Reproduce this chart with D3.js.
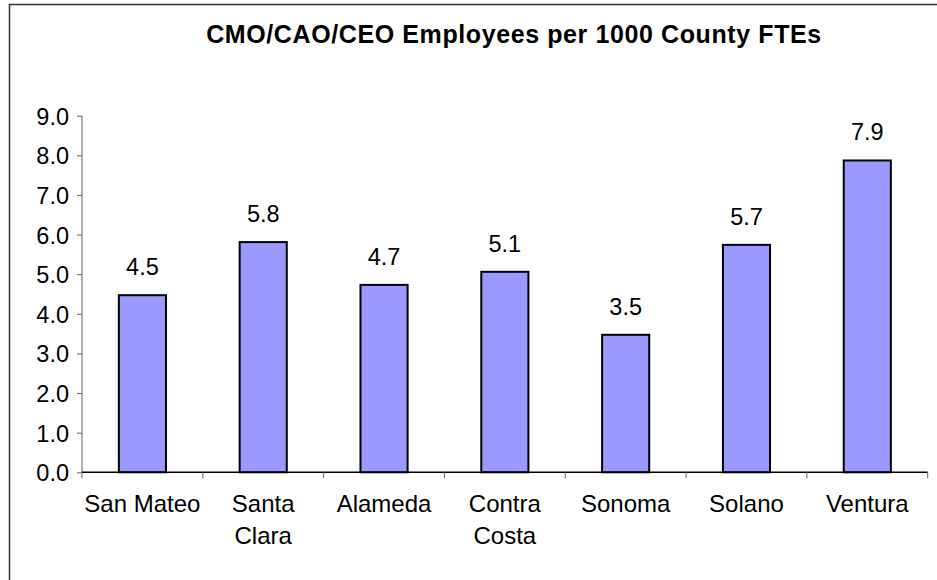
<!DOCTYPE html>
<html lang="en">
    <head>
        <meta charset="utf-8">
        <title>CMO/CAO/CEO Employees per 1000 County FTEs</title>
        <script type="text/javascript" src="https://d3js.org/d3.v7.min.js"></script>
        <style type="text/css">
            body { margin: 0; background: white; }
            text {
                font-family: "Liberation Sans", Arial, sans-serif;
                fill: black;
            }
        </style>
    </head>
    <body>
        <script type="text/javascript">

        // Width and Height
        var w = 937;
        var h = 580;

        // Data
        var counties = ["San Mateo", "Santa Clara", "Alameda", "Contra Costa", "Sonoma", "Solano", "Ventura"];
        var countyLines = [["San Mateo"], ["Santa", "Clara"], ["Alameda"], ["Contra", "Costa"], ["Sonoma"], ["Solano"], ["Ventura"]];
        var perThousand = [4.47, 5.81, 4.73, 5.06, 3.47, 5.74, 7.87];
        var yTicks = [0, 1, 2, 3, 4, 5, 6, 7, 8, 9];

        var plotLeft = 82, plotRight = 927.7, plotTop = 115.7, plotBottom = 472.3;

        var svg = d3.select("body")
                    .append("svg")
                    .attr("width", w)
                    .attr("height", h);

        // Frame (runs off the right and bottom edges)
        svg.append("rect")
            .attr("x", 9.5)
            .attr("y", 4.5)
            .attr("width", w + 20)
            .attr("height", h + 20)
            .attr("fill", "white")
            .attr("stroke", "#333")
            .attr("stroke-width", 1.5);

        // Scales
        var x = d3.scaleBand()
                .domain(counties)
                .range([plotLeft, plotRight])
                .padding(0);

        var y = d3.scaleLinear()
                .domain([0, 9])
                .range([plotBottom, plotTop]);

        var barW = x.bandwidth() * 0.39;

        // Title
        svg.append("text")
            .attr("x", 514)
            .attr("y", 43)
            .attr("text-anchor", "middle")
            .style("font-size", "25px")
            .style("letter-spacing", "0.6px")
            .style("font-weight", "bold")
            .text("CMO/CAO/CEO Employees per 1000 County FTEs");

        // Y axis
        var yAxis = d3.axisLeft(y)
                .tickValues(yTicks)
                .tickFormat(d3.format(".1f"))
                .tickSize(5)
                .tickPadding(8);

        var gy = svg.append("g")
            .attr("transform", "translate(" + plotLeft + ",0)")
            .call(yAxis);
        gy.select(".domain").attr("stroke", "#666").attr("d", "M0," + plotTop + "V" + plotBottom);
        gy.selectAll(".tick line").attr("stroke", "#666");
        gy.selectAll(".tick text")
            .style("font-size", "23.5px")
            .attr("dy", "0.36em");

        // Bars
        svg.selectAll("rect.bar")
            .data(perThousand)
            .enter()
            .append("rect")
            .attr("class", "bar")
            .attr("x", function(d, i) { return x(counties[i]) + (x.bandwidth() - barW) / 2; })
            .attr("y", function(d) { return y(d); })
            .attr("width", barW)
            .attr("height", function(d) { return y(0) - y(d); })
            .attr("fill", "#9999ff")
            .attr("stroke", "black")
            .attr("stroke-width", 2);

        // Value labels
        svg.selectAll("text.val")
            .data(perThousand)
            .enter()
            .append("text")
            .attr("class", "val")
            .attr("x", function(d, i) { return x(counties[i]) + x.bandwidth() / 2; })
            .attr("y", function(d) { return y(d) - 20; })
            .attr("text-anchor", "middle")
            .style("font-size", "23.5px")
            .text(function(d) { return d3.format(".1f")(d); });

        // X axis
        var gx = svg.append("g")
            .attr("transform", "translate(0," + plotBottom + ")");
        gx.append("line")
            .attr("x1", plotLeft)
            .attr("x2", plotRight)
            .attr("stroke", "black")
            .attr("stroke-width", 1.5);
        var edges = counties.map(function(c) { return x(c); }).concat([plotRight]);
        gx.selectAll("line.tk")
            .data(edges)
            .enter()
            .append("line")
            .attr("class", "tk")
            .attr("x1", function(d) { return d; })
            .attr("x2", function(d) { return d; })
            .attr("y1", 0)
            .attr("y2", 6)
            .attr("stroke", "#666");

        var labels = gx.selectAll("text.cat")
            .data(countyLines)
            .enter()
            .append("text")
            .attr("class", "cat")
            .attr("text-anchor", "middle")
            .style("font-size", "24px");
        labels.each(function(lines, i) {
            var t = d3.select(this);
            lines.forEach(function(s, j) {
                t.append("tspan")
                    .attr("x", x(counties[i]) + x.bandwidth() / 2)
                    .attr("y", 40 + j * 32)
                    .text(s);
            });
        });

        </script>
    </body>
</html>
